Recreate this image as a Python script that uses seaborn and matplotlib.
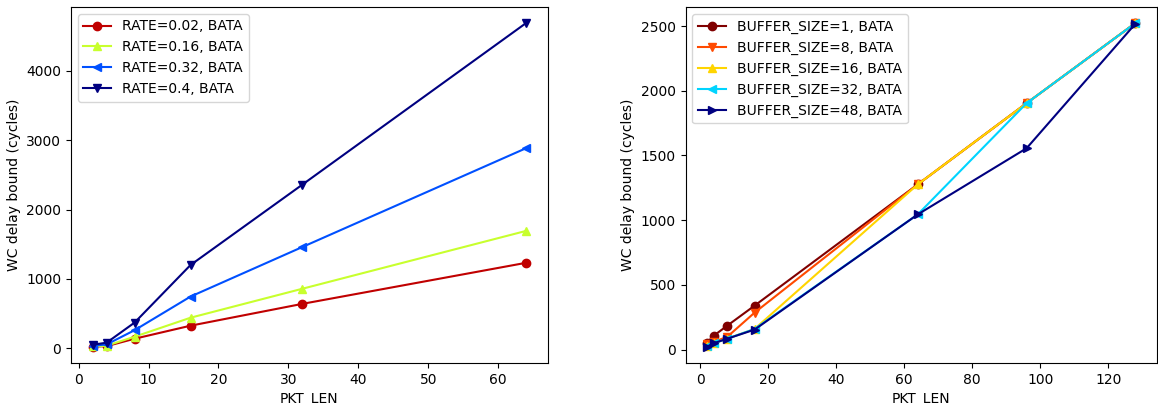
import matplotlib
matplotlib.use("Agg")
import matplotlib.pyplot as plt
import seaborn as sns
import pandas as pd

# ---- Left panel data ----
pkt_len_left = [2, 4, 8, 16, 32, 64]
rate_labels = ["RATE=0.02, BATA", "RATE=0.16, BATA", "RATE=0.32, BATA", "RATE=0.4, BATA"]
rate_002 = [22, 30, 137, 325, 640, 1232]
rate_016 = [25, 36, 166, 440, 858, 1692]
rate_032 = [35, 55, 260, 745, 1460, 2885]
rate_040 = [50, 80, 370, 1200, 2360, 4690]

# ---- Right panel data ----
pkt_len_right = [2, 4, 8, 16, 64, 96, 128]
buf_labels = ["BUFFER_SIZE=1, BATA", "BUFFER_SIZE=8, BATA", "BUFFER_SIZE=16, BATA",
              "BUFFER_SIZE=32, BATA", "BUFFER_SIZE=48, BATA"]
buf_1 = [55, 108, 186, 340, 1277, 1904, 2523]
buf_8 = [40, 60, 100, 286, 1277, 1904, 2523]
buf_16 = [25, 50, 85, 160, 1277, 1904, 2523]
buf_32 = [25, 50, 85, 160, 1045, 1904, 2523]
buf_48 = [23, 50, 85, 155, 1045, 1556, 2518]

# ---- styles ----
left_colors = ["#c00000", "#c8ff2e", "#0050ff", "#000080"]
left_markers = ["o", "^", "<", "v"]
right_colors = ["#800000", "#ff4a00", "#ffd500", "#00d4ff", "#000080"]
right_markers = ["o", "v", "^", "<", ">"]

fig = plt.figure(figsize=(11.58, 4.05), dpi=100)
bottom, top = 0.104, 0.983
ax1 = fig.add_axes([0.0613, bottom, 0.473 - 0.0613, top - bottom])
ax2 = fig.add_axes([0.592, bottom, 0.999 - 0.592, top - bottom])

left_series = [rate_002, rate_016, rate_032, rate_040]
for vals, lab, c, m in zip(left_series, rate_labels, left_colors, left_markers):
    df = pd.DataFrame({"PKT_LEN": pkt_len_left, "delay": vals})
    sns.lineplot(data=df, x="PKT_LEN", y="delay", ax=ax1, color=c, marker=m,
                 markersize=6, markeredgecolor=c, markeredgewidth=1,
                 linewidth=1.5, label=lab)

right_series = [buf_1, buf_8, buf_16, buf_32, buf_48]
for vals, lab, c, m in zip(right_series, buf_labels, right_colors, right_markers):
    df = pd.DataFrame({"PKT_LEN": pkt_len_right, "delay": vals})
    sns.lineplot(data=df, x="PKT_LEN", y="delay", ax=ax2, color=c, marker=m,
                 markersize=6, markeredgecolor=c, markeredgewidth=1,
                 linewidth=1.5, label=lab)

for ax in (ax1, ax2):
    ax.set_xlabel("PKT_LEN")
    ax.set_ylabel("WC delay bound (cycles)")
    ax.legend(loc="upper left")

ax1.set_xticks([0, 10, 20, 30, 40, 50, 60])
ax1.set_yticks([0, 1000, 2000, 3000, 4000])
ax2.set_xticks([0, 20, 40, 60, 80, 100, 120])
ax2.set_yticks([0, 500, 1000, 1500, 2000, 2500])

fig.savefig("out.png", dpi=100)
